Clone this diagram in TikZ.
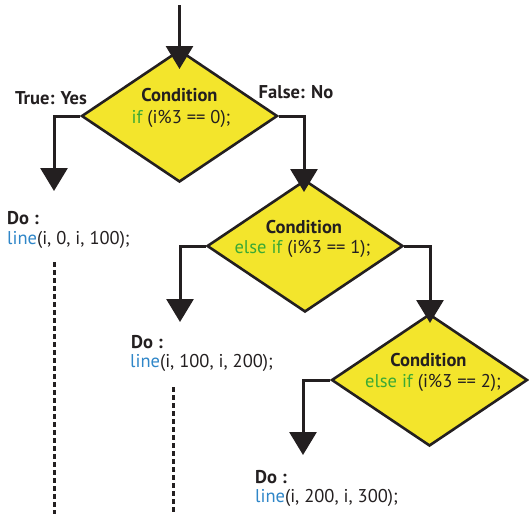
\documentclass[tikz,border=0pt]{standalone}
\usepackage{fontspec}
\setmainfont{PT Sans}
\usetikzlibrary{arrows.meta,shapes.geometric}
\definecolor{ink}{HTML}{231F20}
\definecolor{dyellow}{HTML}{F3E52C}
\definecolor{kwgreen}{HTML}{3BA935}
\definecolor{fnblue}{HTML}{2F86C8}
\tikzset{
  decision/.style={shape=diamond, draw=ink, fill=dyellow, line width=2.6pt,
    minimum width=196pt, minimum height=132pt, inner sep=0pt, line join=miter},
  conn/.style={draw=ink, line width=3pt,
    -{Triangle[width=27pt,length=23pt]}},
  dotline/.style={draw=ink, line width=3pt, dash pattern=on 5pt off 3pt},
  txt/.style={text=ink, inner sep=0pt, font=\fontsize{18.5}{22}\selectfont},
  btxt/.style={txt, font=\fontsize{18.5}{22}\selectfont\bfseries},
}
\begin{document}
\begin{tikzpicture}[x=1pt,y=-1pt]
\useasboundingbox (0,0) rectangle (529,514);

% decisions
\node[decision] (d1) at (179.5,116) {};
\node[decision] (d2) at (305,246) {};
\node[decision] (d3) at (429.5,380) {};

\node[btxt, anchor=base] (c1) at (179.5,101) {Condition};
\node[txt, anchor=base] (k1) at (181,123) {\textcolor{kwgreen}{if} (i\%3 == 0);};
\node[btxt, anchor=base] (c2) at (304,233) {Condition};
\node[txt, anchor=base] (k2) at (302.5,253) {\textcolor{kwgreen}{else if} (i\%3 == 1);};
\node[btxt, anchor=base] (c3) at (428.5,366) {Condition};
\node[txt, anchor=base] (k3) at (433,387) {\textcolor{kwgreen}{else if} (i\%3 == 2);};

% branch labels
\node[btxt, anchor=base] (ly) at (51,104) {True: Yes};
\node[btxt, anchor=base] (ln) at (296,98) {False: No};

% coordinates
\coordinate (in) at (179.5,5);
\coordinate (t0) at (179.5,69);
\coordinate (t1) at (54,191);
\coordinate (t2) at (304,192);
\coordinate (t3) at (180,322);
\coordinate (t4) at (430,323);
\coordinate (t5) at (303,455);

% connectors
\draw[conn] (in) -- (t0);
\draw[conn] (d1.west) -| (t1);
\draw[conn] (d1.east) -| (t2);
\draw[conn] (d2.west) -| (t3);
\draw[conn] (d2.east) -| (t4);
\draw[conn] (d3.west) -| (t5);

% actions
\node[btxt, anchor=base west] (do1) at (7,224) {Do :};
\node[txt, anchor=base west] (a1) at (7,244) {\textcolor{fnblue}{line}(i, 0, i, 100);};
\node[btxt, anchor=base west] (do2) at (131,348) {Do :};
\node[txt, anchor=base west] (a2) at (130,367) {\textcolor{fnblue}{line}(i, 100, i, 200);};
\node[btxt, anchor=base west] (do3) at (255,483) {Do :};
\node[txt, anchor=base west] (a3) at (255,502) {\textcolor{fnblue}{line}(i, 200, i, 300);};

% continuation
\coordinate (s1) at (54,262);
\coordinate (s2) at (173,387);
\coordinate (e1) at (54,514);
\coordinate (e2) at (173,514);
\draw[dotline] (s1) -- (e1);
\draw[dotline] (s2) -- (e2);
\end{tikzpicture}
\end{document}
